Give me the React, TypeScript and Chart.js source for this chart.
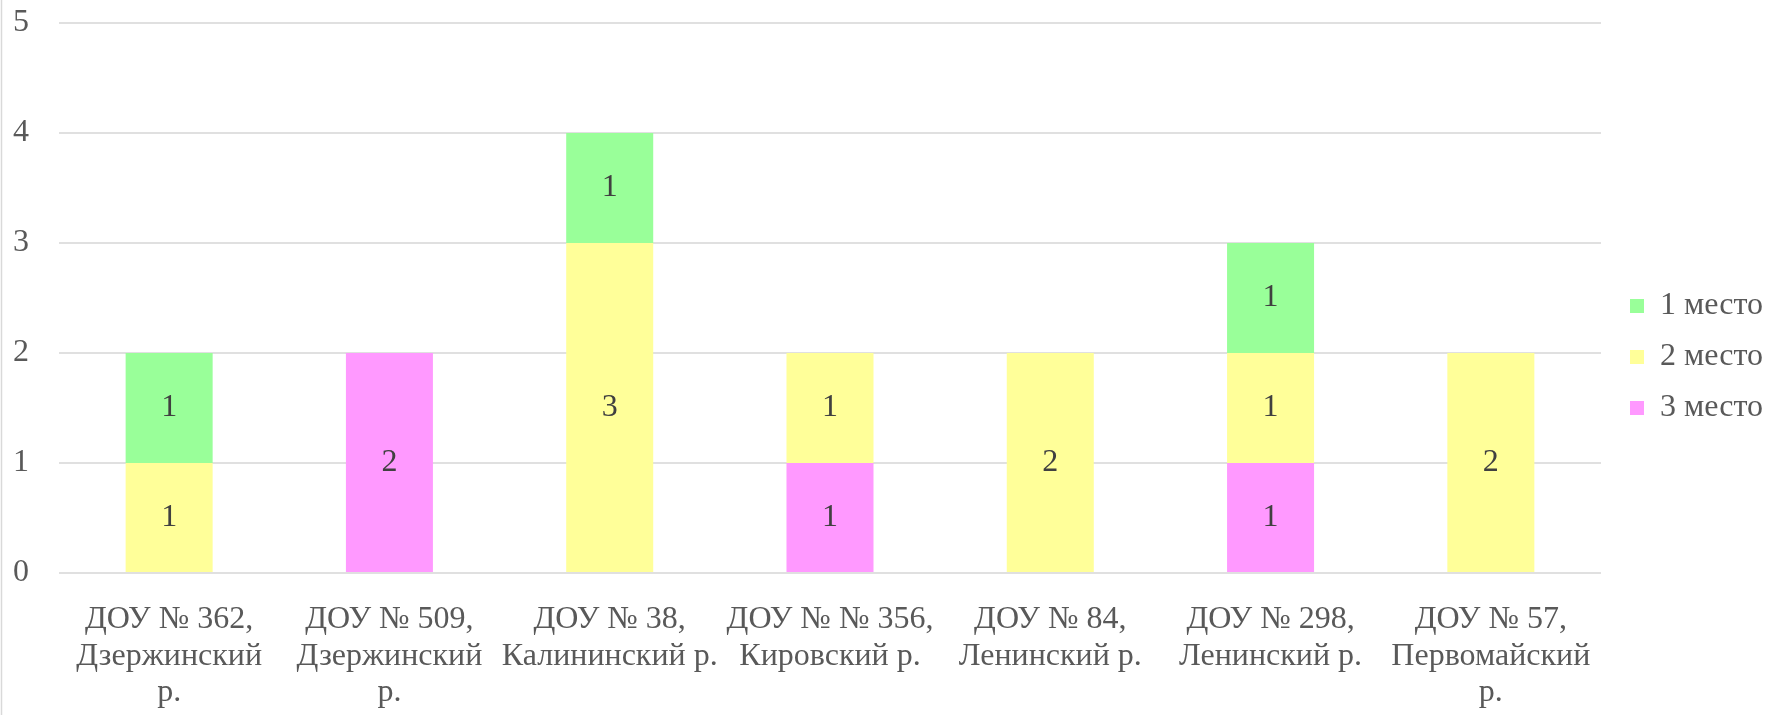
import React, { useEffect, useRef } from "react";
import { Chart, registerables } from "chart.js";

Chart.register(...registerables);

const categories: string[][] = [
  ["ДОУ № 362,", "Дзержинский", "р."],
  ["ДОУ № 509,", "Дзержинский", "р."],
  ["ДОУ № 38,", "Калининский р."],
  ["ДОУ № № 356,", "Кировский р."],
  ["ДОУ № 84,", "Ленинский р."],
  ["ДОУ № 298,", "Ленинский р."],
  ["ДОУ № 57,", "Первомайский", "р."],
];

const place3: number[] = [0, 2, 0, 1, 0, 1, 0];
const place2: number[] = [1, 0, 3, 1, 2, 1, 2];
const place1: number[] = [1, 0, 1, 0, 0, 1, 0];

const seriesNames: string[] = ["3 место", "2 место", "1 место"];
const seriesColors: string[] = ["#FF99FF", "#FFFF99", "#99FF99"];

const FONT = "'Liberation Serif', 'Times New Roman', serif";
const TEXT = "#595959";

const dataLabels = {
  id: "dataLabels",
  afterDatasetsDraw(chart: any) {
    const ctx = chart.ctx;
    ctx.save();
    ctx.font = `32px ${FONT}`;
    ctx.fillStyle = "#404040";
    ctx.textAlign = "center";
    ctx.textBaseline = "middle";
    chart.data.datasets.forEach((ds: any, i: number) => {
      const meta = chart.getDatasetMeta(i);
      meta.data.forEach((el: any, j: number) => {
        const v = ds.data[j];
        if (!v) return;
        ctx.fillText(String(v), el.x, (el.y + el.base) / 2);
      });
    });
    ctx.restore();
  },
};

const frame = {
  id: "frame",
  beforeDraw(chart: any) {
    const ctx = chart.ctx;
    ctx.save();
    ctx.fillStyle = "#ffffff";
    ctx.fillRect(0, 0, chart.width, chart.height);
    ctx.strokeStyle = "#d9d9d9";
    ctx.lineWidth = 1.5;
    ctx.beginPath();
    ctx.moveTo(1.5, 0);
    ctx.lineTo(1.5, chart.height);
    ctx.stroke();
    ctx.restore();
    const lg = chart.legend;
    if (lg) {
      const w = lg.right - lg.left;
      const h = lg.bottom - lg.top;
      lg.left = 1611;
      lg.right = 1611 + w;
      lg.top = 11;
      lg.bottom = 11 + h;
    }
  },
};

export default function App() {
  const ref = useRef<HTMLCanvasElement>(null);
  useEffect(() => {
    document.body.style.margin = "0";
    const values = [place3, place2, place1];
    const chart = new Chart(ref.current!, {
      type: "bar",
      data: {
        labels: categories,
        datasets: values.map((d, i) => ({
          label: seriesNames[i],
          data: d,
          backgroundColor: seriesColors[i],
          borderWidth: 0,
          categoryPercentage: 1,
          barPercentage: 0.395,
        })),
      },
      options: {
        responsive: false,
        animation: false,
        devicePixelRatio: 1,
        layout: { padding: { top: 23, right: 12, left: 0, bottom: 0 } },
        plugins: {
          tooltip: { enabled: false },
          legend: {
            position: "right",
            reverse: true,
            labels: {
              boxWidth: 14,
              boxHeight: 14,
              padding: 19,
              color: TEXT,
              font: { family: FONT, size: 32 },
            },
          },
        },
        scales: {
          x: {
            stacked: true,
            grid: { display: false },
            border: { display: false },
            ticks: {
              autoSkip: false,
              maxRotation: 0,
              minRotation: 0,
              padding: 20,
              color: TEXT,
              font: { family: FONT, size: 32, lineHeight: 1.15 },
            },
            afterFit: (s: any) => {
              s.height = 142;
            },
          },
          y: {
            stacked: true,
            min: 0,
            max: 5,
            border: { display: false },
            grid: { color: "#e0e0e0", lineWidth: 2, drawTicks: false },
            ticks: {
              stepSize: 1,
              padding: 30,
              color: TEXT,
              font: { family: FONT, size: 32 },
            },
            afterFit: (s: any) => {
              s.width = 59;
              s.paddingTop = 0;
              s.paddingBottom = 0;
            },
          },
        },
      },
      plugins: [frame, dataLabels],
    });
    return () => chart.destroy();
  }, []);
  return (
    <div style={{ width: 1775, height: 715 }}>
      <canvas ref={ref} width={1775} height={715} />
    </div>
  );
}
